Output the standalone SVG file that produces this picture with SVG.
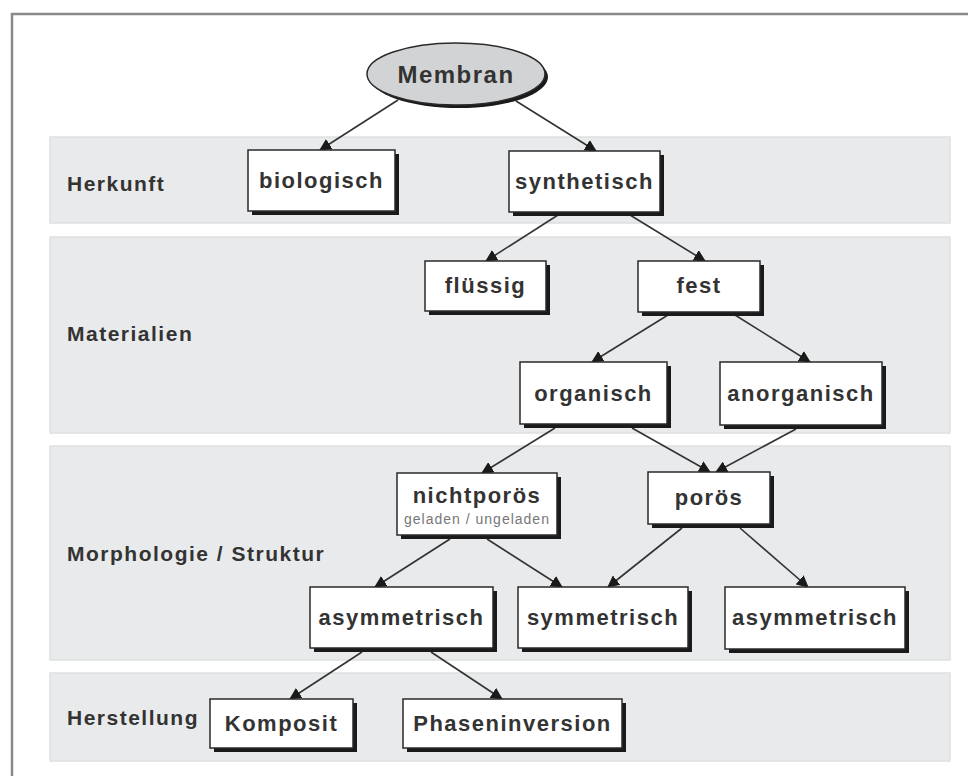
<svg xmlns="http://www.w3.org/2000/svg" width="968" height="776" viewBox="0 0 968 776">
<style>
.band{fill:#e9eaeb;stroke:#dedfe0;stroke-width:1.5}
.box{fill:#fff;stroke:#2a2a2a;stroke-width:1.5}
.sh{fill:#1a1a1a}
.t{font-family:"Liberation Sans",Arial,sans-serif;font-weight:bold;font-size:22px;letter-spacing:1.5px;fill:#333;text-anchor:middle}
.lbl{font-family:"Liberation Sans",Arial,sans-serif;font-weight:bold;font-size:21px;letter-spacing:1.5px;fill:#333}
.sub{font-family:"Liberation Sans",Arial,sans-serif;font-size:14px;letter-spacing:1px;fill:#777;text-anchor:middle}
.c{stroke:#333;stroke-width:1.6;fill:none;marker-end:url(#ah)}
</style>
<defs>
<marker id="ah" markerUnits="userSpaceOnUse" markerWidth="12" markerHeight="12" refX="11" refY="6" orient="auto">
<path d="M0,0 L12,6 L0,12 z" fill="#1a1a1a"/>
</marker>
</defs>
<rect width="968" height="776" fill="#fff"/>
<rect x="12" y="14" width="980" height="800" fill="none" stroke="#8a8a8a" stroke-width="2.5"/>

<g id="bands">
<rect class="band" x="50" y="137" width="900" height="86"/>
<rect class="band" x="50" y="237" width="900" height="196"/>
<rect class="band" x="50" y="446" width="900" height="214"/>
<rect class="band" x="50" y="673" width="900" height="88"/>
</g>

<g id="labels">
<text class="lbl" x="67" y="191">Herkunft</text>
<text class="lbl" x="67" y="341">Materialien</text>
<text class="lbl" x="67" y="561">Morphologie / Struktur</text>
<text class="lbl" x="67" y="725">Herstellung</text>
</g>

<g id="connectors">
<line class="c" x1="398" y1="100" x2="320" y2="150"/>
<line class="c" x1="516" y1="101" x2="596" y2="151"/>
<line class="c" x1="558" y1="215" x2="486" y2="261"/>
<line class="c" x1="630" y1="215" x2="705" y2="261"/>
<line class="c" x1="668" y1="315" x2="592" y2="362"/>
<line class="c" x1="735" y1="315" x2="810" y2="362"/>
<line class="c" x1="555" y1="428" x2="482" y2="473"/>
<line class="c" x1="632" y1="428" x2="710" y2="472"/>
<line class="c" x1="796" y1="429" x2="716" y2="472"/>
<line class="c" x1="450" y1="539" x2="375" y2="587"/>
<line class="c" x1="487" y1="539" x2="562" y2="587"/>
<line class="c" x1="682" y1="528" x2="608" y2="587"/>
<line class="c" x1="740" y1="528" x2="808" y2="587"/>
<line class="c" x1="362" y1="652" x2="290" y2="699"/>
<line class="c" x1="431" y1="652" x2="502" y2="699"/>
</g>

<g id="membran">
<ellipse cx="459" cy="77" rx="89" ry="31" fill="#1a1a1a"/>
<ellipse cx="456" cy="74" rx="89" ry="31" fill="#d2d3d5" stroke="#2a2a2a" stroke-width="1.5"/>
<text class="t" x="456" y="83" style="font-size:24px">Membran</text>
</g>

<g id="biologisch">
<rect class="sh" x="252" y="154" width="147" height="61"/>
<rect class="box" x="248" y="150" width="147" height="61"/>
<text class="t" x="321.5" y="188">biologisch</text>
</g>
<g id="synthetisch">
<rect class="sh" x="513" y="155" width="151" height="61"/>
<rect class="box" x="509" y="151" width="151" height="61"/>
<text class="t" x="584.5" y="189">synthetisch</text>
</g>
<g id="fluessig">
<rect class="sh" x="429" y="265" width="121" height="50"/>
<rect class="box" x="425" y="261" width="121" height="50"/>
<text class="t" x="485.5" y="293">flüssig</text>
</g>
<g id="fest">
<rect class="sh" x="642" y="265" width="122" height="51"/>
<rect class="box" x="638" y="261" width="122" height="51"/>
<text class="t" x="699" y="293">fest</text>
</g>
<g id="organisch">
<rect class="sh" x="524" y="366" width="147" height="62"/>
<rect class="box" x="520" y="362" width="147" height="62"/>
<text class="t" x="593.5" y="401">organisch</text>
</g>
<g id="anorganisch">
<rect class="sh" x="724" y="366" width="162" height="63"/>
<rect class="box" x="720" y="362" width="162" height="63"/>
<text class="t" x="801" y="401">anorganisch</text>
</g>
<g id="nichtporoes">
<rect class="sh" x="401" y="477" width="160" height="62"/>
<rect class="box" x="397" y="473" width="160" height="62"/>
<text class="t" x="477" y="503">nichtporös</text>
<text class="sub" x="477" y="524">geladen / ungeladen</text>
</g>
<g id="poroes">
<rect class="sh" x="652" y="476" width="122" height="52"/>
<rect class="box" x="648" y="472" width="122" height="52"/>
<text class="t" x="709" y="505">porös</text>
</g>
<g id="asym1">
<rect class="sh" x="314" y="591" width="183" height="61"/>
<rect class="box" x="310" y="587" width="183" height="61"/>
<text class="t" x="401.5" y="625">asymmetrisch</text>
</g>
<g id="sym">
<rect class="sh" x="522" y="591" width="170" height="61"/>
<rect class="box" x="518" y="587" width="170" height="61"/>
<text class="t" x="603" y="625">symmetrisch</text>
</g>
<g id="asym2">
<rect class="sh" x="729" y="591" width="180" height="62"/>
<rect class="box" x="725" y="587" width="180" height="62"/>
<text class="t" x="815" y="625">asymmetrisch</text>
</g>
<g id="komposit">
<rect class="sh" x="214" y="703" width="143" height="49"/>
<rect class="box" x="210" y="699" width="143" height="49"/>
<text class="t" x="281.5" y="731">Komposit</text>
</g>
<g id="phaseninversion">
<rect class="sh" x="407" y="703" width="219" height="49"/>
<rect class="box" x="403" y="699" width="219" height="49"/>
<text class="t" x="512.5" y="731">Phaseninversion</text>
</g>
</svg>
